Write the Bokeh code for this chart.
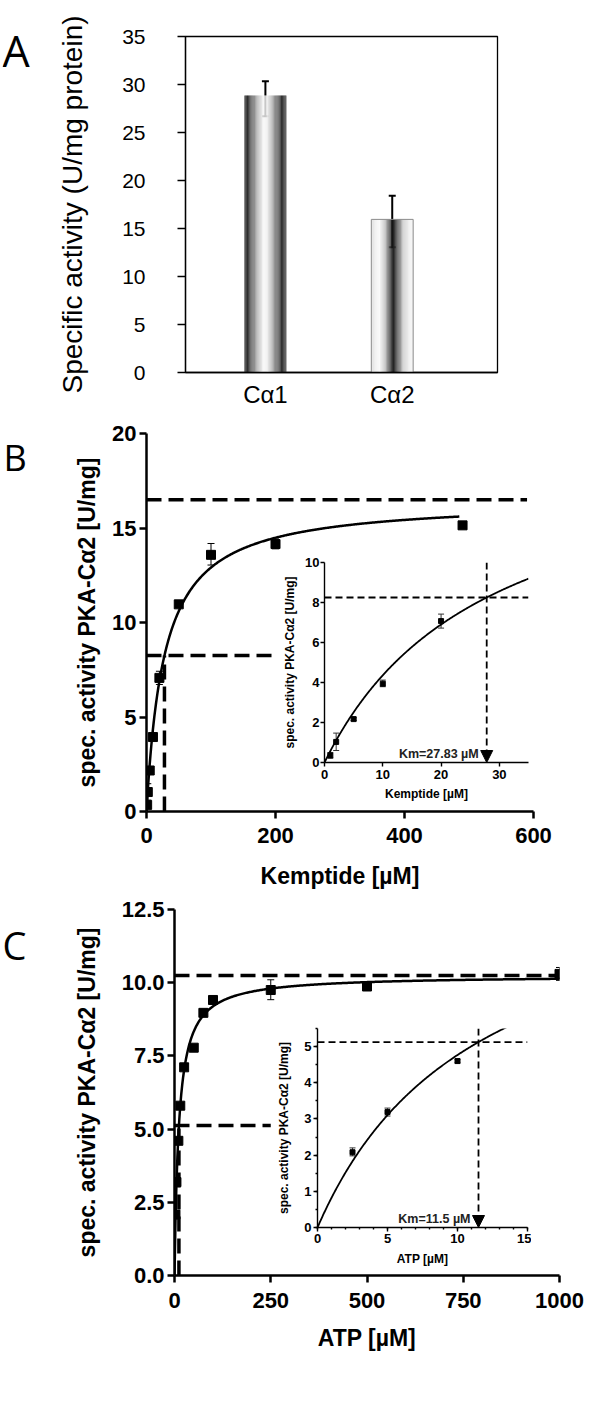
import numpy as np
from bokeh.plotting import figure
from bokeh.models import (ColumnDataSource, Whisker, TeeHead, FixedTicker,
                          Arrow, NormalHead, GridBox, NumeralTickFormatter)
from bokeh.layouts import column
from bokeh.embed import file_html
from bokeh.resources import INLINE
from bokeh.core.properties import value

# ---------------- data ----------------
# Panel A
a_categories = ["Cα1", "Cα2"]
a_values = [28.85, 15.95]
a_err_low = [26.7, 13.05]
a_err_high = [30.35, 18.4]
a_yticks = [0, 5, 10, 15, 20, 25, 30, 35]

# Panel B (Kemptide)
b_x = [1, 2, 5, 10, 20, 50, 100, 200, 490]
b_y = [0.35, 1.03, 2.17, 3.94, 7.07, 10.96, 13.58, 14.15, 15.14]
b_lo = [0.22, 0.6, 2.1, 3.79, 6.72, 10.9, 13.04, 13.9, 15.1]
b_hi = [0.5, 1.47, 2.24, 4.12, 7.42, 11.02, 14.18, 14.42, 15.2]
b_vmax = 16.5
b_km = 27.83
b_curve_end = 485
b_vmax_line_end = 590
b_half_line_end = 200
b_xticks = [0, 200, 400, 600]
b_yticks = [0, 5, 10, 15, 20]
b_inset_xticks = [0, 10, 20, 30]
b_inset_yticks = [0, 2, 4, 6, 8, 10]
b_inset_xmax = 35
b_inset_ymax = 10
b_km_text = "Km=27.83 µM"

# Panel C (ATP)
c_x = [2.5, 5, 10, 15, 25, 50, 75, 100, 250, 500, 1000]
c_y = [2.08, 3.19, 4.6, 5.8, 7.11, 7.78, 8.97, 9.41, 9.75, 9.87, 10.3]
c_lo = [1.98, 3.08, 4.55, 5.75, 7.06, 7.73, 8.92, 9.36, 9.42, 9.82, 10.08]
c_hi = [2.2, 3.3, 4.65, 5.85, 7.16, 7.83, 9.02, 9.46, 10.1, 9.92, 10.52]
c_vmax = 10.25
c_km = 11.5
c_curve_end = 1000
c_vmax_line_end = 995
c_half_line_end = 250
c_xticks = [0, 250, 500, 750, 1000]
c_yticks = [0, 2.5, 5, 7.5, 10, 12.5]
c_inset_xticks = [0, 5, 10, 15]
c_inset_xminor = list(range(0, 16))
c_inset_yticks = [0, 1, 2, 3, 4, 5]
c_inset_yminor = [i * 0.5 for i in range(0, 12)]
c_inset_xmax = 15
c_inset_ymax = 5.5
c_km_text = "Km=11.5 µM"

panel_letters = ["A", "B", "C"]

FONT = "Liberation Sans"
LETTER_FONT = "Open Sans"


def mm(vmax, km, xs):
    xs = np.asarray(xs, dtype=float)
    return vmax * xs / (km + xs)


def style_axes(p, tick_size, label_size, bold=True, lw=2.5, tick_out=7):
    for ax in (p.xaxis[0], p.yaxis[0]):
        ax.axis_line_width = lw
        ax.axis_line_color = "black"
        ax.major_tick_line_width = lw
        ax.major_tick_line_color = "black"
        ax.minor_tick_line_width = lw
        ax.major_tick_out = tick_out
        ax.major_tick_in = 0
        ax.minor_tick_in = 0
        ax.minor_tick_out = max(2, tick_out // 2)
        ax.major_label_text_font = FONT
        ax.major_label_text_font_size = tick_size
        ax.major_label_text_color = "black"
        ax.axis_label_text_font = FONT
        ax.axis_label_text_font_size = label_size
        ax.axis_label_text_color = "black"
        ax.major_label_text_font_style = "bold" if bold else "normal"
        ax.axis_label_text_font_style = "bold" if bold else "normal"
    p.xgrid.visible = False
    p.ygrid.visible = False


def letter_fig(text, size):
    p = figure(frame_width=40, frame_height=70, min_border=0, x_range=(0, 1), y_range=(0, 1),
               x_axis_location=None, y_axis_location=None, output_backend="svg",
               toolbar_location=None)
    p.xgrid.visible = False
    p.ygrid.visible = False
    p.outline_line_color = None
    p.background_fill_color = None
    p.border_fill_color = None
    p.text(x=[0], y=[0.5], text=[text], text_baseline="middle", text_align="left",
           text_font=value(LETTER_FONT), text_font_size=value(size), text_color="black")
    return p


# ---------------- Panel A ----------------
a_x = [1, 2]
bar_w = 0.33
pA = figure(frame_width=312, frame_height=336, min_border_left=185, min_border_right=95,
            min_border_top=36, min_border_bottom=48, x_range=(0.37, 2.83), y_range=(0, 35),
            output_backend="svg", toolbar_location=None)
style_axes(pA, "21px", "28px", bold=False, lw=1.3, tick_out=8)
pA.outline_line_color = "black"
pA.outline_line_width = 1.3
pA.yaxis.ticker = FixedTicker(ticks=a_yticks, minor_ticks=[])
pA.yaxis.major_label_standoff = 32
pA.yaxis.axis_label = "Specific activity (U/mg protein)"
pA.yaxis.axis_label_standoff = 31
pA.xaxis.ticker = FixedTicker(ticks=a_x, minor_ticks=[])
pA.xaxis.major_label_overrides = {1: a_categories[0], 2: a_categories[1]}
pA.xaxis.major_tick_out = 0
pA.xaxis.major_label_text_font_size = "24px"
pA.xaxis.major_label_standoff = 8

profiles = [
    [(0, 60), (0.08, 40), (0.25, 150), (0.45, 248), (0.55, 240), (0.75, 130), (0.9, 40), (1, 70)],
    [(0, 225), (0.2, 250), (0.35, 185), (0.5, 20), (0.6, 60), (0.75, 200), (0.9, 240), (1, 245)],
]
N = 48
for cx, val, prof in zip(a_x, a_values, profiles):
    t = (np.arange(N) + 0.5) / N
    ts, gs = zip(*prof)
    g = np.interp(t, ts, gs).astype(int)
    cols = ["#%02x%02x%02x" % (v, v, v) for v in g]
    xs = cx + (t - 0.5) * bar_w
    pA.vbar(x=xs, width=bar_w / N * 1.15, top=[val] * N, bottom=0, fill_color=cols,
            line_color=None)
pA.vbar(x=[a_x[1]], width=bar_w, top=[a_values[1]], bottom=0, fill_color=None,
        line_color="#8a8a8a", line_width=1)
srcA = ColumnDataSource(dict(x=a_x, lo=a_err_low, hi=a_err_high))
pA.add_layout(Whisker(source=srcA, base="x", lower="lo", upper="hi", line_width=2,
                      line_color="black",
                      upper_head=TeeHead(size=7, line_width=2, line_color="black"),
                      lower_head=TeeHead(size=7, line_width=2, line_color="black")))

gridA = GridBox(children=[(pA, 0, 0, 3, 3), (letter_fig(panel_letters[0], "43px"), 1, 1, 1, 1)],
                rows=["15px", "70px", "335px"], cols=["2px", "40px", "550px"], spacing=0)


# ---------------- helpers for B / C ----------------
def main_plot(xr, yr, left, fw, right, top, fh, bottom):
    p = figure(frame_width=fw, frame_height=fh, min_border_left=left, min_border_right=right,
               min_border_top=top, min_border_bottom=bottom, x_range=xr, y_range=yr,
               output_backend="svg", toolbar_location=None)
    p.outline_line_color = None
    p.border_fill_color = "white"
    style_axes(p, "22px", "23px", bold=True, lw=2.5, tick_out=7)
    return p


def inset_plot(xr, yr, left, fw, right, top, fh, bottom):
    p = figure(frame_width=fw, frame_height=fh, min_border_left=left, min_border_right=right,
               min_border_top=top, min_border_bottom=bottom, x_range=xr, y_range=yr,
               output_backend="svg", toolbar_location=None)
    p.outline_line_color = None
    p.background_fill_color = None
    p.border_fill_color = None
    style_axes(p, "13px", "12px", bold=True, lw=1.4, tick_out=4)
    return p


def draw_main(p, xs, ys, lo, hi, vmax, km, curve_end, vline_end, hline_end):
    cx = np.linspace(0, curve_end, 400)
    p.line(cx, mm(vmax, km, cx), line_color="black", line_width=2.5)
    p.line([0, vline_end], [vmax, vmax], line_color="black", line_width=3.5, line_dash="15 7")
    p.line([0, hline_end], [vmax / 2, vmax / 2], line_color="black", line_width=3.5,
           line_dash="15 7")
    p.line([km, km], [0, vmax / 2], line_color="black", line_width=3.5, line_dash="15 7")
    src = ColumnDataSource(dict(x=xs, y=ys, lo=lo, hi=hi))
    p.add_layout(Whisker(source=src, base="x", lower="lo", upper="hi", line_width=1,
                         upper_head=TeeHead(size=7, line_width=1),
                         lower_head=TeeHead(size=7, line_width=1)))
    p.scatter("x", "y", source=src, marker="square", size=9, fill_color="black",
              line_color="black")


def draw_inset(p, xs, ys, lo, hi, vmax, km, xmax, ytop, text):
    cx = np.linspace(0, xmax, 300)
    p.line(cx, mm(vmax, km, cx), line_color="black", line_width=1.8)
    p.line([0, xmax], [vmax / 2, vmax / 2], line_color="black", line_width=1.8,
           line_dash="7 4")
    p.add_layout(Arrow(end=NormalHead(size=12, fill_color="black", line_color="black",
                                      line_width=1),
                       x_start=km, y_start=ytop, x_end=km, y_end=0,
                       line_color="black", line_width=1.8, line_dash="7 4"))
    sel = [i for i, v in enumerate(xs) if v <= xmax]
    src = ColumnDataSource(dict(x=[xs[i] for i in sel], y=[ys[i] for i in sel],
                                lo=[lo[i] for i in sel], hi=[hi[i] for i in sel]))
    p.add_layout(Whisker(source=src, base="x", lower="lo", upper="hi", line_width=1,
                         line_color="#333333",
                         upper_head=TeeHead(size=6, line_width=1, line_color="#333333"),
                         lower_head=TeeHead(size=6, line_width=1, line_color="#333333")))
    p.scatter("x", "y", source=src, marker="square", size=5, fill_color="black",
              line_color="black")
    p.text(x=[km], y=[0], text=[text], x_offset=-8, y_offset=-2, text_align="right",
           text_baseline="bottom", text_font=value(FONT), text_font_style="bold",
           text_font_size=value("12.5px"), text_color="#222222")


# ---------------- Panel B ----------------
pB = main_plot((0, 600), (0, 20), 146, 387, 59, 13, 378, 82)
pB.xaxis.ticker = FixedTicker(ticks=b_xticks, minor_ticks=[])
pB.yaxis.ticker = FixedTicker(ticks=b_yticks, minor_ticks=[])
pB.yaxis.major_label_standoff = 3
pB.yaxis.axis_label = "spec. activity PKA-Cα2 [U/mg]"
pB.yaxis.axis_label_standoff = 9
pB.xaxis.major_label_standoff = 9
pB.xaxis.axis_label = "Kemptide [µM]"
pB.xaxis.axis_label_standoff = 17
draw_main(pB, b_x, b_y, b_lo, b_hi, b_vmax, b_km, b_curve_end, b_vmax_line_end,
          b_half_line_end)

pBi = inset_plot((0, b_inset_xmax), (0, b_inset_ymax), 43, 205, 4, 8, 200, 48)
pBi.xaxis.ticker = FixedTicker(ticks=b_inset_xticks, minor_ticks=[])
pBi.yaxis.ticker = FixedTicker(ticks=b_inset_yticks, minor_ticks=[])
pBi.yaxis.major_label_standoff = 1
pBi.yaxis.axis_label = "spec. activity PKA-Cα2 [U/mg]"
pBi.yaxis.axis_label_standoff = 5
pBi.xaxis.major_label_standoff = 3
pBi.xaxis.axis_label = "Kemptide [µM]"
pBi.xaxis.axis_label_standoff = 5
draw_inset(pBi, b_x, b_y, b_lo, b_hi, b_vmax, b_km, b_inset_xmax, b_inset_ymax, b_km_text)

gridB = GridBox(children=[(pB, 0, 0, 5, 5), (letter_fig(panel_letters[1], "36px"), 1, 1, 1, 1),
                          (pBi, 3, 3, 1, 1)],
                rows=["2px", "70px", "62px", "256px", "83px"],
                cols=["3px", "40px", "237px", "252px", "60px"], spacing=0)

# ---------------- Panel C ----------------
pC = main_plot((0, 1000), (0, 12.5), 174, 385, 33, 16, 366, 80)
pC.xaxis.ticker = FixedTicker(ticks=c_xticks, minor_ticks=[])
pC.yaxis.ticker = FixedTicker(ticks=c_yticks, minor_ticks=[])
pC.yaxis.formatter = NumeralTickFormatter(format="0.0")
pC.yaxis.major_label_standoff = 3
pC.yaxis.axis_label = "spec. activity PKA-Cα2 [U/mg]"
pC.yaxis.axis_label_standoff = 19
pC.xaxis.major_label_standoff = 10
pC.xaxis.axis_label = "ATP [µM]"
pC.xaxis.axis_label_standoff = 14
draw_main(pC, c_x, c_y, c_lo, c_hi, c_vmax, c_km, c_curve_end, c_vmax_line_end,
          c_half_line_end)

pCi = inset_plot((0, c_inset_xmax), (0, c_inset_ymax), 44, 210, 4, 8, 199, 48)
pCi.xaxis.ticker = FixedTicker(ticks=c_inset_xticks, minor_ticks=c_inset_xminor)
pCi.yaxis.ticker = FixedTicker(ticks=c_inset_yticks, minor_ticks=c_inset_yminor)
pCi.yaxis.major_label_standoff = 2
pCi.yaxis.axis_label = "spec. activity PKA-Cα2 [U/mg]"
pCi.yaxis.axis_label_standoff = 10
pCi.xaxis.major_label_standoff = 2
pCi.xaxis.axis_label = "ATP [µM]"
pCi.xaxis.axis_label_standoff = 6
draw_inset(pCi, c_x, c_y, c_lo, c_hi, c_vmax, c_km, c_inset_xmax, c_inset_ymax, c_km_text)

gridC = GridBox(children=[(pC, 0, 0, 5, 5), (letter_fig(panel_letters[2], "38px"), 1, 1, 1, 1),
                          (pCi, 3, 3, 1, 1)],
                rows=["16px", "70px", "41px", "255px", "80px"],
                cols=["2px", "40px", "231px", "258px", "61px"], spacing=0)

layout = column(gridA, gridB, gridC, spacing=0)
open("out.html", "w").write(file_html(layout, INLINE))
